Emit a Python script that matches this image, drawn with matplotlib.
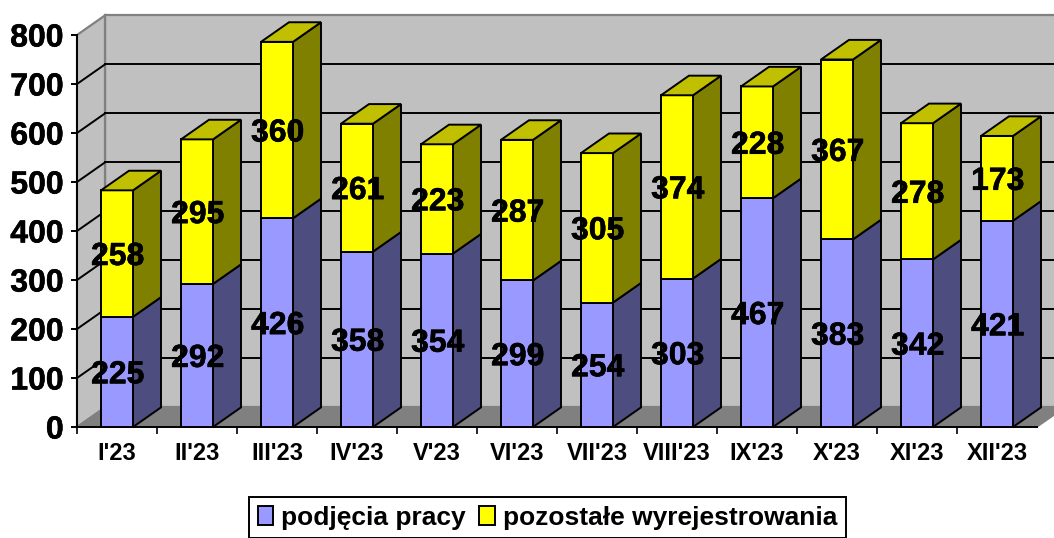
#!/usr/bin/env python3
"""Stacked 3D-look column chart, monthly deregistrations 2023."""

import matplotlib

matplotlib.use("Agg")
import matplotlib.patheffects as pe
import matplotlib.pyplot as plt
import numpy as np
from matplotlib.patches import Patch, Polygon

plt.rcParams["font.family"] = ["Liberation Sans", "DejaVu Sans"]
plt.rcParams["font.weight"] = "bold"

months = ["I'23", "II'23", "III'23", "IV'23", "V'23", "VI'23",
          "VII'23", "VIII'23", "IX'23", "X'23", "XI'23", "XII'23"]
podjecia = [225, 292, 426, 358, 354, 299, 254, 303, 467, 383, 342, 421]
pozostale = [258, 295, 360, 261, 223, 287, 305, 374, 228, 367, 278, 173]
y_ticks = [0, 100, 200, 300, 400, 500, 600, 700, 800]

W, H = 1054, 538
DX = 0.35  # depth in category units
DY = 40.0  # depth in value units
BAR_W = 0.4
LW = 1.4
HEAVY = [pe.withStroke(linewidth=0.4, foreground="black")]

fig = plt.figure(figsize=(W / 100, H / 100), dpi=100)
ax = fig.add_axes([77 / W, 1 - 427 / H, 960 / W, 392 / H])
ax.set_xlim(0, 12)
ax.set_ylim(0, 800)


def poly(pts, color, z, edge="black", lw=LW):
    ax.add_patch(Polygon(pts, closed=True, facecolor=color, edgecolor=edge,
                         linewidth=lw, zorder=z, clip_on=False, joinstyle="miter"))


def value_label(x, y, val):
    ax.annotate(str(val), (x, y), xytext=(0.5, -2.5), textcoords="offset points",
                ha="center", va="center", fontsize=23, fontweight="bold",
                color="black", zorder=10, path_effects=HEAVY)


# walls and floor
top = y_ticks[-1]
poly([(DX, DY), (12 + DX, DY), (12 + DX, top + DY), (DX, top + DY)], "#C0C0C0", 1, "#808080", 1.6)
poly([(0, 0), (DX, DY), (DX, top + DY), (0, top)], "#C0C0C0", 1, "#808080", 1.6)
poly([(0, 0), (12, 0), (12 + DX, DY), (DX, DY)], "#808080", 1.5, "#808080", 1.0)

for v in y_ticks[1:-1]:
    ax.plot([0, DX], [v, v + DY], color="black", lw=LW, zorder=2, clip_on=False)
    ax.plot([DX, 12 + DX], [v + DY, v + DY], color="black", lw=LW, zorder=2, clip_on=False)


def column(x0, y0, y1, front, side, z):
    x1 = x0 + BAR_W
    poly([(x1, y0), (x1 + DX, y0 + DY), (x1 + DX, y1 + DY), (x1, y1)], side, z)
    poly([(x0, y0), (x1, y0), (x1, y1), (x0, y1)], front, z)


# columns, left to right
for i, (a, b) in enumerate(zip(podjecia, pozostale)):
    x0 = i + 0.5 - BAR_W / 2
    z = 3 + i * 0.1
    column(x0, 0, a, "#9999FF", "#4D4D80", z)
    column(x0, a, a + b, "#FFFF00", "#808000", z + 0.01)
    poly([(x0, a + b), (x0 + BAR_W, a + b), (x0 + BAR_W + DX, a + b + DY), (x0 + DX, a + b + DY)],
         "#C0C000", z + 0.02)

    value_label(i + 0.5, a / 2, a)
    value_label(i + 0.5, a + b / 2, b)

# axes
for s in ["top", "right"]:
    ax.spines[s].set_visible(False)
for s in ["left", "bottom"]:
    ax.spines[s].set_linewidth(LW)
    ax.spines[s].set_zorder(2.5)

ax.set_yticks(y_ticks)
ax.set_yticklabels([str(v) for v in y_ticks], fontsize=23, fontweight="bold", path_effects=HEAVY)
ax.tick_params(axis="y", length=4.5, width=LW, pad=5)

ax.set_xticks(np.arange(12) + 0.5)
ax.set_xticklabels(months, fontsize=17, fontweight="bold")
ax.tick_params(axis="x", which="major", length=0, pad=11)
ax.set_xticks(np.arange(12), minor=True)
ax.tick_params(axis="x", which="minor", length=5, width=1.2)

handles = [Patch(facecolor="#9999FF", edgecolor="black", linewidth=LW),
           Patch(facecolor="#FFFF00", edgecolor="black", linewidth=LW)]
leg = fig.legend(handles, ["podjęcia pracy", "pozostałe wyrejestrowania"], ncol=2,
                 loc="center", bbox_to_anchor=(547.5 / W, 1 - 517.5 / H),
                 prop={"size": 19, "weight": "bold"}, fancybox=False,
                 edgecolor="black", framealpha=1, handlelength=0.6, handleheight=0.75,
                 handletextpad=0.3, columnspacing=0.5, borderpad=0.33, borderaxespad=0)
leg.get_frame().set_linewidth(LW)

fig.savefig("out.png", dpi=100)
